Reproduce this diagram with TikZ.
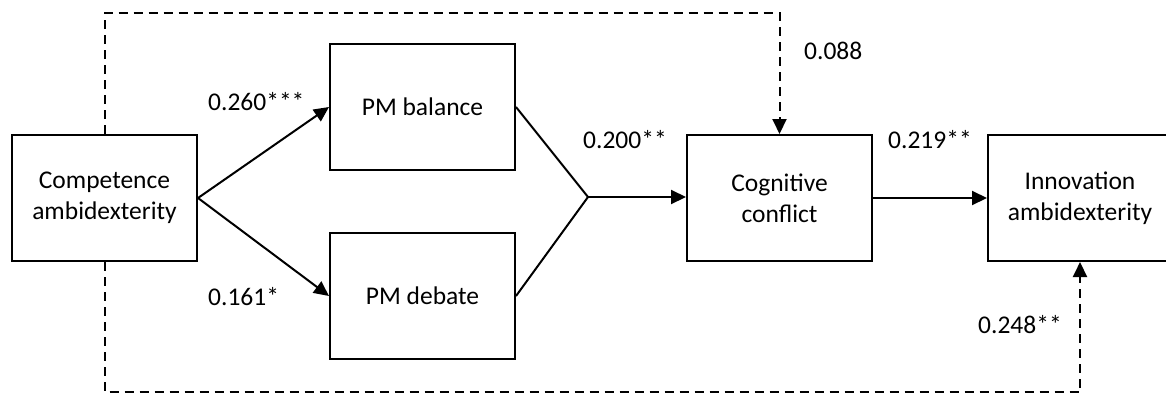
\documentclass[tikz,border=0pt]{standalone}
\usepackage{fontspec}
\setmainfont{Carlito}
\usetikzlibrary{arrows.meta}
\begin{document}
\begin{tikzpicture}[x=1pt,y=-1pt,
  box/.style={draw,line width=2pt,minimum width=185pt,minimum height=126pt,inner sep=0pt,align=center,font=\fontsize{25.5}{31}\selectfont},
  conn/.style={line width=2pt,-{Triangle[length=15pt,width=14pt]}},
  plain/.style={line width=2pt},
  dashline/.style={line width=2pt,dash pattern=on 9pt off 6pt,-{Triangle[length=15pt,width=14pt]}},
  lbl/.style={anchor=base west,inner sep=0pt,font=\fontsize{25.5}{31}\selectfont}]
\useasboundingbox (0,0) rectangle (1166,394);
\begin{scope}
\clip (0,0) rectangle (1166,394);
\node[box] (comp) at (104.5,198) {Competence\\ambidexterity};
\node[box] (bal) at (422.5,107) {PM balance};
\node[box] (deb) at (422.5,296) {PM debate};
\node[box] (cog) at (779.5,198) {Cognitive\\conflict};
\node[box,minimum width=184pt] (inn) at (1080,198) {Innovation\\ambidexterity};
\coordinate (j) at (588,197);
\coordinate (t) at (779.5,13);
\coordinate (b) at (1080,392);
\draw[conn] (comp.east) -- (bal.west);
\draw[conn] (comp.east) -- (deb.west);
\draw[plain] (bal.east) -- (j);
\draw[plain] (deb.east) -- (j);
\draw[conn] (j) -- (j -| cog.west);
\draw[conn] (cog.east) -- (inn.west);
\draw[dashline] (comp.north) |- (t) -- (cog.north);
\draw[dashline] (comp.south) |- (b) -- (inn.south);
\node[lbl] (l1) at (208,110) {0.260***};
\node[lbl] (l2) at (208,305) {0.161*};
\node[lbl] (l3) at (583,148) {0.200**};
\node[lbl] (l4) at (804,59) {0.088};
\node[lbl] (l5) at (888,148) {0.219**};
\node[lbl] (l6) at (978,333) {0.248**};
\end{scope}
\end{tikzpicture}
\end{document}
